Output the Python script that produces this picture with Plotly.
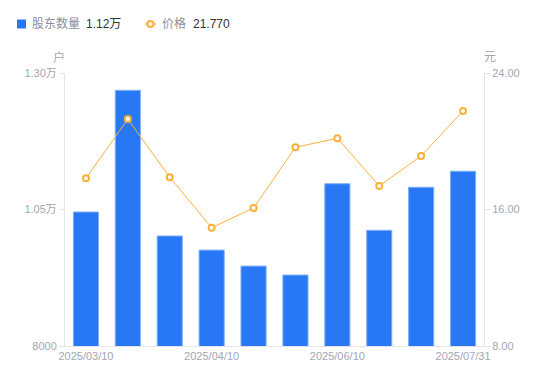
import plotly.graph_objects as go

dates = ["2025/03/10", "2025/03/20", "2025/03/31", "2025/04/10", "2025/04/30",
         "2025/05/20", "2025/06/10", "2025/06/30", "2025/07/20", "2025/07/31"]
holders = [10454, 12683, 10015, 9756, 9463, 9300, 10972, 10119, 10907, 11200]
prices = [17.83, 21.30, 17.89, 14.93, 16.09, 19.65, 20.17, 17.38, 19.14, 21.77]
x_tickvals = ["2025/03/10", "2025/04/10", "2025/06/10", "2025/07/31"]
left_tickvals = [8000, 10500, 13000]
left_ticktext = ["8000", "1.05万", "1.30万"]
right_tickvals = [8, 16, 24]
right_ticktext = ["8.00", "16.00", "24.00"]

FONT = "Liberation Sans, Arial, Noto Sans CJK SC, sans-serif"
GRAY = "#a3a6b4"
AXIS = "#e3e4e8"
BLUE = "#2878f5"
ORANGE = "#fbb03b"

fig = go.Figure()
fig.add_trace(go.Bar(
    x=dates, y=holders, name="股东数量",
    marker=dict(color=BLUE, line=dict(color="#7fb0f8", width=1)),
    width=0.6, yaxis="y", showlegend=False,
))
fig.add_trace(go.Scatter(
    x=dates, y=prices, name="价格", mode="lines+markers",
    line=dict(color=ORANGE, width=1),
    marker=dict(symbol="circle", size=6, color="white", line=dict(color=ORANGE, width=2)),
    yaxis="y2", showlegend=False,
))

fig.update_layout(
    width=550, height=381,
    margin=dict(l=65, r=66, t=73, b=35),
    paper_bgcolor="white", plot_bgcolor="white",
    font=dict(family=FONT, size=11, color=GRAY),
    bargap=0.4,
    xaxis=dict(
        type="category", tickvals=x_tickvals, ticktext=x_tickvals,
        range=[-0.5, len(dates) - 0.5],
        showline=True, linecolor=AXIS, linewidth=1, showgrid=False,
        ticks="", tickfont=dict(size=11, color=GRAY), zeroline=False,
    ),
    yaxis=dict(
        range=[8000, 13000], tickvals=left_tickvals, ticktext=left_ticktext,
        showline=True, linecolor=AXIS, linewidth=1, showgrid=False,
        ticks="outside", ticklen=5, tickcolor=AXIS, zeroline=False,
        tickfont=dict(size=11, color=GRAY),
    ),
    yaxis2=dict(
        range=[8, 24], tickvals=right_tickvals, ticktext=right_ticktext,
        overlaying="y", side="right",
        showline=True, linecolor=AXIS, linewidth=1, showgrid=False,
        ticks="outside", ticklen=5, tickcolor=AXIS, zeroline=False,
        tickfont=dict(size=11, color=GRAY),
    ),
    showlegend=False,
)

# axis unit titles
fig.add_annotation(text="户", xref="paper", yref="paper", x=-0.015, y=1.0, yshift=16,
                   showarrow=False, font=dict(size=12, color=GRAY), xanchor="center", yanchor="middle")
fig.add_annotation(text="元", xref="paper", yref="paper", x=1.0, y=1.0, xshift=6, yshift=16,
                   showarrow=False, font=dict(size=12, color=GRAY), xanchor="center", yanchor="middle")

# custom legend
PW, PH = 419, 273
def px(x):
    return (x - 65) / PW
def py(y):
    return 1 + (73 - y) / PH

fig.add_shape(type="rect", xref="paper", yref="paper",
              x0=px(17), x1=px(26), y0=py(28.5), y1=py(19.5),
              fillcolor=BLUE, line=dict(width=0))
fig.add_annotation(text="股东数量", xref="paper", yref="paper", x=px(30), y=py(24),
                   showarrow=False, xanchor="left", yanchor="middle", font=dict(size=12, color="#8a8e9b"))
fig.add_annotation(text="1.12万", xref="paper", yref="paper", x=px(84), y=py(24),
                   showarrow=False, xanchor="left", yanchor="middle", font=dict(size=12, color="#333333"))
fig.add_shape(type="line", xref="paper", yref="paper",
              x0=px(145), x1=px(156), y0=py(24), y1=py(24),
              line=dict(color=ORANGE, width=1.5))
fig.add_shape(type="circle", xref="paper", yref="paper",
              x0=px(147.5), x1=px(153.5), y0=py(27), y1=py(21),
              fillcolor="white", line=dict(color=ORANGE, width=2))
fig.add_annotation(text="价格", xref="paper", yref="paper", x=px(160), y=py(24),
                   showarrow=False, xanchor="left", yanchor="middle", font=dict(size=12, color="#8a8e9b"))
fig.add_annotation(text="21.770", xref="paper", yref="paper", x=px(191), y=py(24),
                   showarrow=False, xanchor="left", yanchor="middle", font=dict(size=12, color="#333333"))

fig.write_html("out.html", config={"displayModeBar": False},
               post_script="document.body.style.margin='0';document.body.style.overflow='hidden';")
